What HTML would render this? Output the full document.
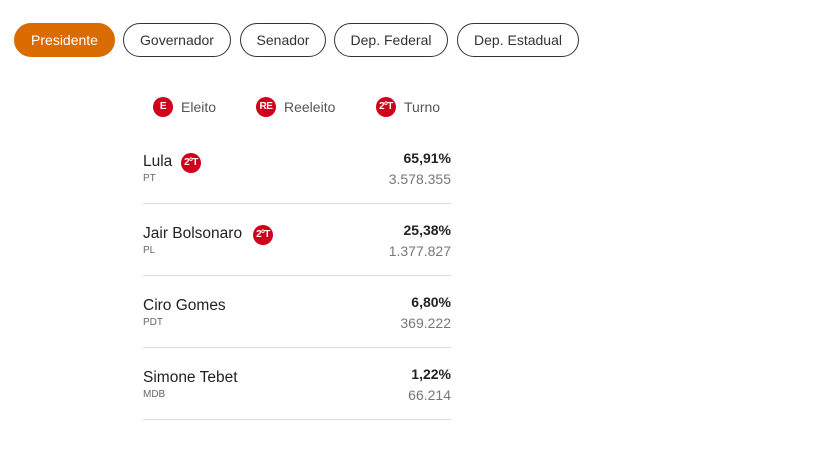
<!DOCTYPE html>
<html><head><meta charset="utf-8"><style>
*{margin:0;padding:0;box-sizing:border-box}
body{width:819px;height:460px;background:#fff;font-family:"Liberation Sans",sans-serif;position:relative;overflow:hidden;color:#222}
.b{position:absolute;top:23px;height:34px;border:1px solid #333;border-radius:17px;font-size:14px;line-height:32px;text-align:center;color:#333}
.b.on{background:#d96b00;border-color:#d96b00;color:#fff}
.ic{position:absolute;width:20px;height:20px;border-radius:50%;background:#d0021b;color:#fff;font-size:10px;font-weight:bold;text-align:center;line-height:20px;letter-spacing:-0.5px}
.lt{position:absolute;font-size:14px;color:#555;top:99px}
.row{position:absolute;left:143px;width:308px;height:72px;border-bottom:1px solid #ddd}
.n{position:absolute;left:0;top:21px;font-size:15.5px;color:#222}
.p{position:absolute;left:0;top:41px;font-size:10px;color:#666}
.pc{position:absolute;right:0;top:18px;font-size:14px;font-weight:bold;color:#222}
.v{position:absolute;right:0;top:39px;font-size:14px;color:#777}
</style></head><body>
<div class="b on" style="left:14px;width:101px">Presidente</div>
<div class="b" style="left:123px;width:108px">Governador</div>
<div class="b" style="left:240px;width:86px">Senador</div>
<div class="b" style="left:334px;width:114px">Dep. Federal</div>
<div class="b" style="left:457px;width:122px">Dep. Estadual</div>
<div class="ic" style="left:153px;top:97px">E</div><div class="lt" style="left:181px">Eleito</div>
<div class="ic" style="left:256px;top:97px">RE</div><div class="lt" style="left:284px">Reeleito</div>
<div class="ic" style="left:376px;top:97px">2ºT</div><div class="lt" style="left:404px">Turno</div>
<div class="row" style="top:132px"><div class="n">Lula</div><div class="ic" style="left:38px;top:21px">2ºT</div><div class="p">PT</div><div class="pc">65,91%</div><div class="v">3.578.355</div></div>
<div class="row" style="top:204px"><div class="n">Jair Bolsonaro</div><div class="ic" style="left:110px;top:21px">2ºT</div><div class="p">PL</div><div class="pc">25,38%</div><div class="v">1.377.827</div></div>
<div class="row" style="top:276px"><div class="n">Ciro Gomes</div><div class="p">PDT</div><div class="pc">6,80%</div><div class="v">369.222</div></div>
<div class="row" style="top:348px"><div class="n">Simone Tebet</div><div class="p">MDB</div><div class="pc">1,22%</div><div class="v">66.214</div></div>
</body></html>
